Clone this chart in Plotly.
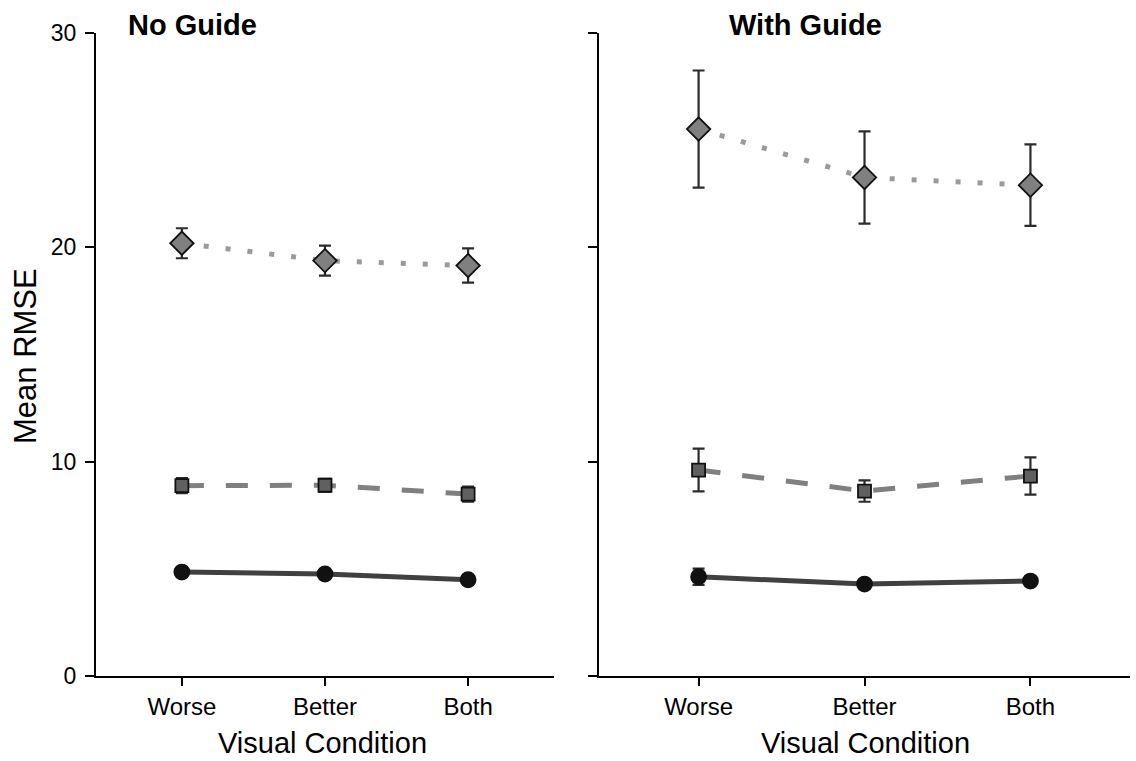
import plotly.graph_objects as go

categories = ["Worse", "Better", "Both"]
y_ticks = [0, 10, 20, 30]

# No Guide panel
ng_diamond = [20.19, 19.38, 19.15]
ng_diamond_err = [0.70, 0.70, 0.80]
ng_square = [8.88, 8.90, 8.49]
ng_square_err = [0.35, 0.30, 0.35]
ng_circle = [4.85, 4.76, 4.49]
ng_circle_err = [0.15, 0.12, 0.12]

# With Guide panel
wg_diamond = [25.52, 23.26, 22.90]
wg_diamond_err = [2.73, 2.15, 1.90]
wg_square = [9.61, 8.63, 9.33]
wg_square_err = [1.00, 0.50, 0.87]
wg_circle = [4.63, 4.29, 4.43]
wg_circle_err = [0.38, 0.12, 0.18]

FONT = "Liberation Sans, Arial, sans-serif"
ERR = dict(type="data", visible=True, color="#2b2b2b", thickness=2.2, width=6)

styles = [
    # (line color, dash, marker symbol, marker size, marker fill)
    ("#9a9a9a", "5px,17px", "diamond", 18, "#808080"),
    ("#808080", "22px,22px", "square", 13, "#606060"),
    ("#404040", "solid", "circle", 15, "#111111"),
]

fig = go.Figure()

panels = [
    ("x", "y", [ng_diamond, ng_square, ng_circle], [ng_diamond_err, ng_square_err, ng_circle_err]),
    ("x2", "y2", [wg_diamond, wg_square, wg_circle], [wg_diamond_err, wg_square_err, wg_circle_err]),
]

for xa, ya, series, errs in panels:
    for (lc, dash, sym, size, fill), vals, err in zip(styles, series, errs):
        fig.add_trace(go.Scatter(
            x=list(range(len(categories))), y=vals, xaxis=xa, yaxis=ya,
            mode="lines+markers",
            line=dict(color=lc, width=5, dash=dash),
            marker=dict(symbol=sym, size=size, color=fill,
                        line=dict(color="#111111", width=1.8)),
            error_y=dict(array=err, **ERR),
            showlegend=False,
        ))

xcommon = dict(
    range=[-0.6, 2.6], tickmode="array", tickvals=[0, 1, 2], ticktext=categories,
    showline=True, linecolor="black", linewidth=2, ticks="outside", ticklen=8,
    tickwidth=2, tickcolor="black", showgrid=False, zeroline=False,
    tickfont=dict(family=FONT, size=24, color="black"),
)
ycommon = dict(
    range=[0, 30], tickmode="array", tickvals=y_ticks,
    showline=True, linecolor="black", linewidth=2, ticks="outside", ticklen=9,
    tickwidth=2, tickcolor="black", showgrid=False, zeroline=False,
    tickfont=dict(family=FONT, size=23, color="black"),
)

fig.update_layout(
    width=1136, height=761,
    margin=dict(l=96, r=6, t=33, b=85),
    paper_bgcolor="white", plot_bgcolor="white",
    xaxis=dict(domain=[0, 0.4429], anchor="y", **xcommon),
    xaxis2=dict(domain=[0.4865, 1.0], anchor="y2", **xcommon),
    yaxis=dict(domain=[0, 1], anchor="x", ticklabelstandoff=4, **ycommon),
    yaxis2=dict(domain=[0, 1], anchor="x2", showticklabels=False, **ycommon),
)

annots = [
    dict(text="<b>No Guide</b>", x=126, y=25),
    dict(text="<b>With Guide</b>", x=727, y=25),
]
for a in annots:
    fig.add_annotation(
        text=a["text"], xref="paper", yref="paper",
        x=(a["x"] - 96) / 1034, y=1 + (33 - a["y"]) / 643,
        xanchor="left", yanchor="middle", showarrow=False,
        font=dict(family=FONT, size=29, color="black"),
    )

for cx in (322, 865):
    fig.add_annotation(text="Visual Condition", xref="paper", yref="paper",
                       x=(cx - 96) / 1034, y=-(743 - 676) / 643, xanchor="center", yanchor="middle",
                       showarrow=False, font=dict(family=FONT, size=29, color="black"))
fig.add_annotation(text="Mean RMSE", xref="paper", yref="paper",
                   x=-(96 - 26) / 1034, y=(676 - 356) / 643, xanchor="center", yanchor="middle",
                   textangle=-90, showarrow=False, font=dict(family=FONT, size=31, color="black"))

fig.write_html("out.html")
